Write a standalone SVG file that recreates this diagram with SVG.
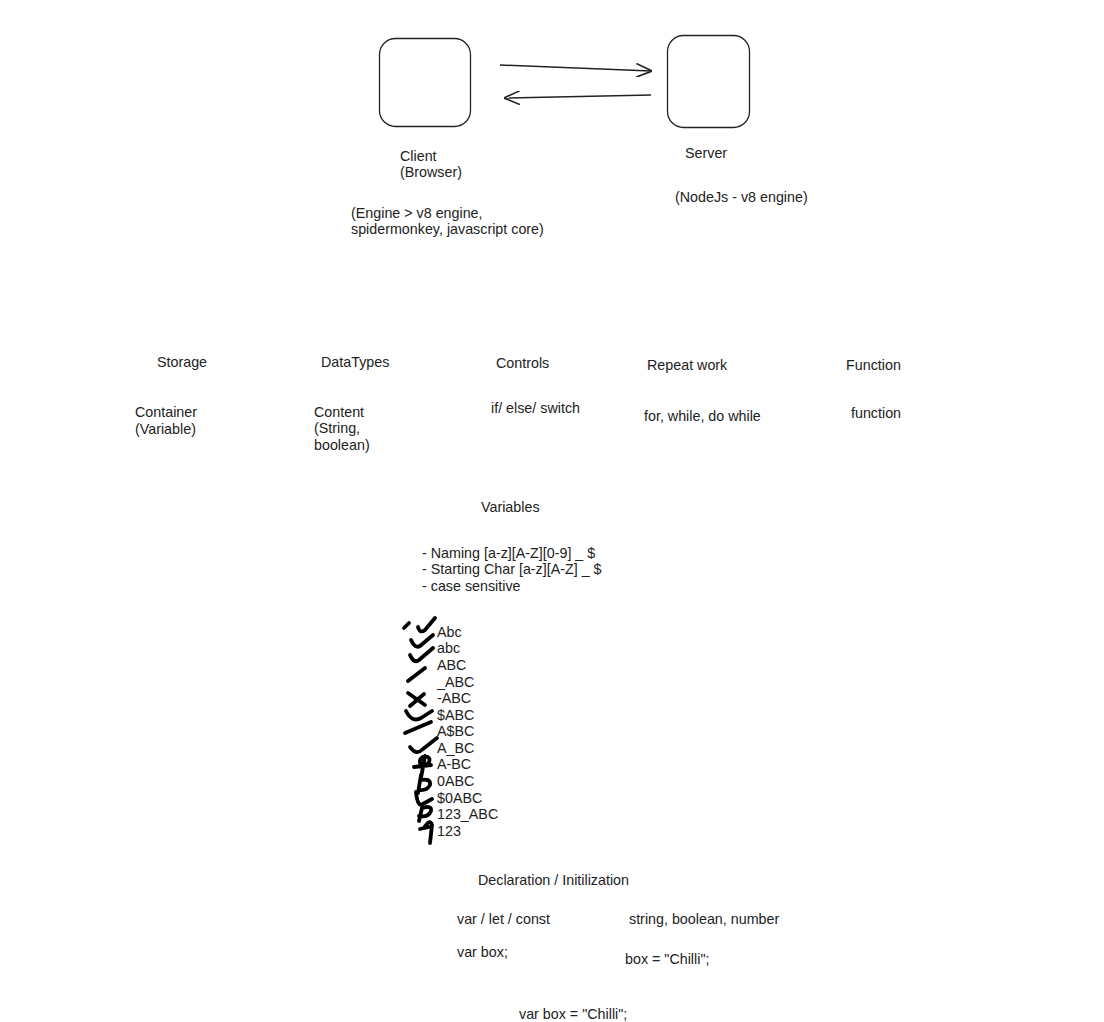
<svg xmlns="http://www.w3.org/2000/svg" width="1104" height="1022" viewBox="0 0 1104 1022">
<style>
text{font-family:"Liberation Sans",Arial,sans-serif;font-size:14.3px;fill:#222}
.box{fill:#fff;stroke:#222;stroke-width:1.3}
.edge{fill:none;stroke:#222;stroke-width:1.5}
.ink{fill:none;stroke:#000;stroke-width:3.8;stroke-linecap:round;stroke-linejoin:round}
</style>
<defs>
<marker id="open" viewBox="0 0 14 12" refX="13" refY="6" markerWidth="16" markerHeight="14" markerUnits="userSpaceOnUse" orient="auto">
<path d="M0,0 L14,6 L0,12" fill="none" stroke="#222" stroke-width="1.4"/>
</marker>
</defs>
<rect width="1104" height="1022" fill="#fff"/>
<g id="client">
<rect class="box" x="379.5" y="38.5" width="91" height="88" rx="16"/>
<text x="400" y="161">Client</text>
<text x="400" y="177">(Browser)</text>
<text x="351" y="218">(Engine &gt; v8 engine,</text>
<text x="351" y="234">spidermonkey, javascript core)</text>
</g>
<g id="server">
<rect class="box" x="667.5" y="35.5" width="82" height="92" rx="16"/>
<text x="685" y="158">Server</text>
<text x="675" y="202">(NodeJs - v8 engine)</text>
</g>
<g id="connectors">
<path class="edge" d="M500,65 L651,71" marker-end="url(#open)"/>
<path class="edge" d="M651,95 L505,98" marker-end="url(#open)"/>
</g>
<g id="storage">
<text x="157" y="367">Storage</text>
<text x="135" y="417">Container</text>
<text x="135" y="434">(Variable)</text>
</g>
<g id="datatypes">
<text x="321" y="367">DataTypes</text>
<text x="314" y="417">Content</text>
<text x="314" y="433">(String,</text>
<text x="314" y="450">boolean)</text>
</g>
<g id="controls">
<text x="496" y="368">Controls</text>
<text x="491" y="413">if/ else/ switch</text>
</g>
<g id="repeat">
<text x="647" y="370">Repeat work</text>
<text x="644" y="421">for, while, do while</text>
</g>
<g id="function">
<text x="846" y="370">Function</text>
<text x="851" y="418">function</text>
</g>
<g id="variables">
<text x="481" y="512">Variables</text>
<text x="422" y="558">- Naming [a-z][A-Z][0-9] _ $</text>
<text x="422" y="574">- Starting Char [a-z][A-Z] _ $</text>
<text x="422" y="591">- case sensitive</text>
</g>
<g id="names">
<text x="437" y="637">Abc</text>
<text x="437" y="653">abc</text>
<text x="437" y="670">ABC</text>
<text x="437" y="687">_ABC</text>
<text x="437" y="703">-ABC</text>
<text x="437" y="720">$ABC</text>
<text x="437" y="736">A$BC</text>
<text x="437" y="753">A_BC</text>
<text x="437" y="769">A-BC</text>
<text x="437" y="786">0ABC</text>
<text x="437" y="803">$0ABC</text>
<text x="437" y="819">123_ABC</text>
<text x="437" y="836">123</text>
</g>
<g id="marks">
<path class="ink" d="M404,628 L409,623"/>
<path class="ink" d="M418,627 Q420,634 425,630 L435,618"/>
<path class="ink" d="M411,640 Q415,649 420,646 L433,635"/>
<path class="ink" d="M410,655 Q414,664 419,660 L433,648"/>
<path class="ink" d="M408,681 L425,668"/>
<path class="ink" d="M408,693 L425,705 M410,706 L424,694"/>
<path class="ink" d="M406,711 Q412,723 421,718 L432,711"/>
<path class="ink" d="M405,733 L431,722"/>
<path class="ink" d="M410,747 Q416,756 423,749 L437,738"/>
<path class="ink" d="M425,756 Q431,757 429,762 Q426,767 420,763 Q419,758 425,756 L421,778 M414,767 L431,765"/>
<path class="ink" d="M421,775 L418,793 M421,780 Q431,778 430,785 Q427,791 419,790"/>
<path class="ink" d="M416,792 Q417,804 421,805 L432,799"/>
<path class="ink" d="M419,821 L422,808 Q432,805 431,811 Q428,818 419,816"/>
<path class="ink" d="M424,828 Q430,818 432,825 L430,843 M420,829 L429,827"/>
</g>
<g id="declaration">
<text x="478" y="885">Declaration / Initilization</text>
<text x="457" y="924">var / let / const</text>
<text x="629" y="924">string, boolean, number</text>
<text x="457" y="957">var box;</text>
<text x="625" y="964">box = "Chilli";</text>
<text x="519" y="1019">var box = "Chilli";</text>
</g>
</svg>
